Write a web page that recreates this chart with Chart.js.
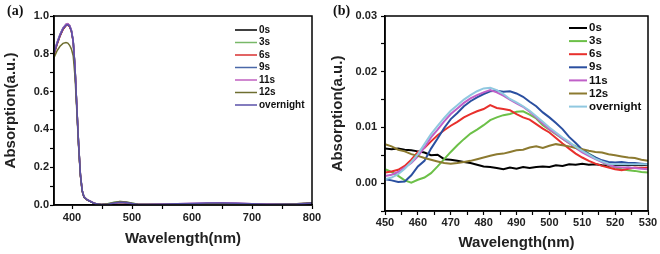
<!DOCTYPE html>
<html>
<head>
<meta charset="utf-8">
<script src="https://cdn.jsdelivr.net/npm/chart.js@4.4.0/dist/chart.umd.min.js"></script>
<style>
body{margin:0;background:#fff;}
#wrap{position:relative;width:660px;height:254px;}
canvas{position:absolute;top:0;}
#chartA{left:0;}
#chartB{left:330px;}
</style>
</head>
<body>
<div id="wrap">
<canvas id="chartA" width="330" height="254"></canvas>
<canvas id="chartB" width="330" height="254"></canvas>
</div>
<script>
const series = ["0s","3s","6s","9s","11s","12s","overnight"];
const coloresA = ["#000000","#78b868","#d83030","#4a68a8","#c060c0","#6e6e30","#5a50a8"];
const coloresB = ["#000000","#6cc048","#e8302c","#2a4fa0","#c060c8","#8c7a30","#90c8e0"];

// panel (a): 370-800 nm
const wlA = [370,375,380,385,390,393,396,399,402,405,408,411,414,417,420,425,430,435,440,450,
             460,470,480,490,500,510,525,550,575,600,625,650,675,700,725,750,775,790,800];
const a0s = [.800,.850,.895,.930,.950,.953,.945,.920,.865,.725,.520,.320,.160,.075,.042,.028,.020,.012,.006,.002,
             .004,.010,.014,.012,.007,.003,.002,.003,.004,.005,.006,.006,.005,.004,.003,.003,.005,.008,.009];
const a3s = [.805,.855,.900,.935,.955,.958,.950,.925,.870,.730,.525,.325,.165,.078,.044,.030,.021,.013,.008,.004,
             .008,.015,.018,.016,.010,.004,.002,.003,.004,.005,.005,.006,.005,.004,.003,.004,.006,.009,.011];
const a6s = [.795,.848,.893,.928,.949,.952,.944,.918,.862,.722,.518,.318,.158,.074,.041,.027,.019,.011,.005,.002,
             .004,.009,.013,.011,.006,.003,.002,.003,.004,.005,.006,.006,.005,.004,.003,.003,.005,.008,.009];
const a9s = [.812,.860,.903,.937,.956,.958,.950,.924,.868,.728,.522,.322,.162,.076,.043,.028,.020,.012,.006,.002,
             .004,.010,.014,.012,.007,.003,.002,.003,.004,.005,.006,.006,.005,.004,.003,.003,.005,.008,.010];
const a11s = [.808,.857,.901,.936,.957,.960,.952,.926,.870,.730,.524,.324,.163,.077,.043,.029,.021,.013,.007,.003,
              .005,.011,.016,.014,.008,.004,.003,.005,.007,.009,.011,.012,.010,.007,.005,.004,.006,.009,.012];
const a12s = [.780,.815,.840,.855,.860,.857,.845,.825,.790,.680,.500,.310,.155,.072,.040,.027,.019,.011,.006,.003,
              .006,.013,.018,.016,.009,.004,.002,.003,.004,.005,.006,.006,.005,.004,.003,.004,.006,.009,.012];
const aNoche = [.802,.852,.897,.932,.951,.954,.946,.921,.866,.726,.521,.321,.161,.075,.042,.028,.020,.012,.006,.002,
                .004,.010,.015,.013,.008,.003,.002,.004,.006,.008,.010,.011,.009,.006,.004,.004,.005,.008,.010];

// panel (b): 450-530 nm
const wlB = [450,452,454,456,458,460,462,464,466,468,470,472,474,476,478,480,482,484,486,488,490,
             492,494,496,498,500,502,504,506,508,510,512,514,516,518,520,522,524,526,528,530];
const b0s = [.0062,.0061,.0062,.0060,.0059,.0057,.0055,.0050,.0051,.0043,.0042,.0040,.0038,.0036,.0033,.0030,.0029,.0027,.0025,.0028,.0026,
             .0029,.0027,.0029,.0030,.0029,.0032,.0031,.0034,.0033,.0035,.0033,.0034,.0032,.0031,.0032,.0033,.0032,.0033,.0032,.0033];
const b3s = [.0025,.0020,.0013,.0005,.0001,.0006,.0010,.0018,.0030,.0043,.0056,.0068,.0079,.0089,.0096,.0104,.0113,.0118,.0122,.0124,.0128,
             .0129,.0123,.0116,.0104,.0096,.0088,.0080,.0072,.0066,.0060,.0053,.0046,.0038,.0032,.0028,.0025,.0023,.0022,.0020,.0019];
const b6s = [.0019,.0021,.0024,.0031,.0042,.0056,.0063,.0075,.0086,.0095,.0103,.0110,.0118,.0124,.0129,.0133,.0140,.0135,.0133,.0131,.0124,
             .0118,.0114,.0106,.0098,.0091,.0081,.0071,.0062,.0053,.0046,.0040,.0035,.0031,.0028,.0025,.0023,.0026,.0028,.0027,.0028];
const b9s = [.0007,.0005,.0002,.0003,.0014,.0030,.0040,.0062,.0080,.0099,.0115,.0126,.0138,.0147,.0154,.0160,.0165,.0166,.0164,.0165,.0161,
             .0155,.0146,.0138,.0127,.0118,.0108,.0097,.0083,.0072,.0060,.0052,.0046,.0041,.0038,.0037,.0038,.0036,.0036,.0035,.0034];
const b11s = [.0013,.0015,.0020,.0028,.0036,.0048,.0064,.0082,.0096,.0111,.0124,.0134,.0144,.0152,.0158,.0163,.0167,.0163,.0157,.0150,.0143,
              .0137,.0128,.0118,.0107,.0097,.0089,.0080,.0072,.0063,.0055,.0049,.0043,.0038,.0033,.0029,.0028,.0028,.0027,.0026,.0025];
const b12s = [.0070,.0066,.0060,.0057,.0052,.0049,.0045,.0042,.0039,.0036,.0035,.0036,.0038,.0040,.0043,.0046,.0049,.0052,.0053,.0056,.0059,
              .0060,.0064,.0066,.0063,.0067,.0070,.0068,.0066,.0063,.0061,.0058,.0056,.0055,.0052,.0050,.0048,.0046,.0045,.0042,.0040];
const bNoche = [.0007,.0010,.0016,.0026,.0038,.0052,.0070,.0088,.0103,.0117,.0130,.0140,.0150,.0158,.0165,.0170,.0171,.0167,.0160,.0151,.0145,
                .0138,.0130,.0120,.0110,.0100,.0091,.0082,.0074,.0065,.0058,.0051,.0044,.0039,.0035,.0034,.0034,.0034,.0034,.0034,.0034];

const FUENTE = "'Liberation Sans', Arial, sans-serif";

function armar(xs, listas, colores, ancho){
    return listas.map((ys,i) => ({
        label: series[i],
        data: xs.map((x,k) => ({x: x, y: ys[k]})),
        borderColor: colores[i],
        backgroundColor: colores[i],
        borderWidth: ancho,
        pointRadius: 0,
        tension: 0,
        fill: false,
        order: 6 - i
    }));
}

// marco superior y derecho
const marco = {
    id: 'marco',
    afterDraw(chart){
        const a = chart.chartArea, ctx = chart.ctx;
        ctx.save();
        ctx.strokeStyle = '#000';
        ctx.lineWidth = 1.5;
        ctx.strokeRect(a.left, a.top, a.right - a.left, a.bottom - a.top);
        ctx.restore();
    }
};

// leyenda dentro del area y etiqueta (a)/(b)
const leyenda = {
    id: 'leyenda',
    afterDraw(chart, args, o){
        const ctx = chart.ctx;
        ctx.save();
        ctx.font = o.font;
        ctx.textBaseline = 'middle';
        ctx.fillStyle = '#111';
        chart.data.datasets.forEach((d,i) => {
            const y = o.y + i*o.dy;
            ctx.strokeStyle = d.borderColor;
            ctx.lineWidth = o.lw;
            ctx.beginPath(); ctx.moveTo(o.x1, y); ctx.lineTo(o.x2, y); ctx.stroke();
            ctx.fillText(d.label, o.x2 + 2, y);
        });
        ctx.font = o.panelFont;
        ctx.textBaseline = 'alphabetic';
        ctx.fillText(o.panel, o.px, o.py);
        ctx.restore();
    }
};

function crear(id, c){
    const ctx = document.getElementById(id).getContext('2d');
    return new Chart(ctx, {
        type: 'line',
        data: { datasets: c.datasets },
        plugins: [marco, leyenda],
        options: {
            responsive: false,
            animation: false,
            devicePixelRatio: 1,
            layout: { padding: { top: 16, right: c.right, left: 0, bottom: 0 } },
            plugins: {
                legend: { display: false },
                tooltip: { enabled: false },
                leyenda: c.leyenda
            },
            scales: {
                x: {
                    type: 'linear',
                    min: c.xmin, max: c.xmax,
                    afterFit: s => { s.height = c.xh; s.paddingLeft = 0; s.paddingRight = 0; },
                    ticks: {
                        stepSize: c.xstep, includeBounds: false, autoSkip: false, maxRotation: 0,
                        padding: c.xpad, color: '#222',
                        font: { family: FUENTE, size: 11, weight: 'bold' },
                        callback: v => (v % c.xmajor === 0 ? String(v) : '')
                    },
                    grid: { drawOnChartArea: false, tickLength: 4, tickColor: '#000', tickWidth: 1.2 },
                    border: { color: '#000', width: 1.5 },
                    title: {
                        display: true, text: 'Wavelength(nm)', color: '#222',
                        font: { family: FUENTE, size: 15, weight: 'bold', lineHeight: 1 },
                        padding: { top: 0, bottom: c.xtpad }
                    }
                },
                y: {
                    min: c.ymin, max: c.ymax,
                    afterFit: s => { s.width = c.yw; s.paddingTop = 0; s.paddingBottom = 0; },
                    ticks: {
                        stepSize: c.ystep, includeBounds: false, autoSkip: false,
                        padding: c.ypad, color: '#222',
                        font: { family: FUENTE, size: 11, weight: 'bold' },
                        callback: v => {
                            const r = v / c.ymajor;
                            if (Math.abs(r - Math.round(r)) > 1e-6) return '';
                            return (Math.round(r) * c.ymajor).toFixed(c.ydec).replace('-0.00', '0.00');
                        }
                    },
                    grid: { drawOnChartArea: false, tickLength: 4, tickColor: '#000', tickWidth: 1.2 },
                    border: { color: '#000', width: 1.5 },
                    title: {
                        display: true, text: 'Absorption(a.u.)', color: '#222',
                        font: { family: FUENTE, size: 15, weight: 'bold', lineHeight: 1 },
                        padding: { top: c.ytpad, bottom: 0 }
                    }
                }
            }
        }
    });
}

crear('chartA', {
    datasets: armar(wlA, [a0s,a3s,a6s,a9s,a11s,a12s,aNoche], coloresA, 1.5),
    right: 18, xh: 49, yw: 54,
    xmin: 370, xmax: 800, xstep: 50, xmajor: 100, xpad: 2, xtpad: 7.5,
    ymin: 0, ymax: 1, ystep: 0.1, ymajor: 0.2, ydec: 1, ypad: 1, ytpad: 3.5,
    leyenda: { font: 'bold 10px ' + FUENTE, x1: 235, x2: 257, y: 30, dy: 12.5, lw: 1.5,
               panel: '(a)', panelFont: 'bold 14px "Liberation Serif", serif', px: 7, py: 15 }
});

crear('chartB', {
    datasets: armar(wlB, [b0s,b3s,b6s,b9s,b11s,b12s,bNoche], coloresB, 2),
    right: 12, xh: 43, yw: 55,
    xmin: 450, xmax: 530, xstep: 5, xmajor: 10, xpad: 1, xtpad: 3.5,
    ymin: -0.005, ymax: 0.03, ystep: 0.005, ymajor: 0.01, ydec: 2, ypad: 4, ytpad: 0,
    leyenda: { font: 'bold 11.5px ' + FUENTE, x1: 239, x2: 257, y: 28, dy: 13.1, lw: 2,
               panel: '(b)', panelFont: 'bold 14px "Liberation Serif", serif', px: 3, py: 15 }
});
</script>
</body>
</html>
